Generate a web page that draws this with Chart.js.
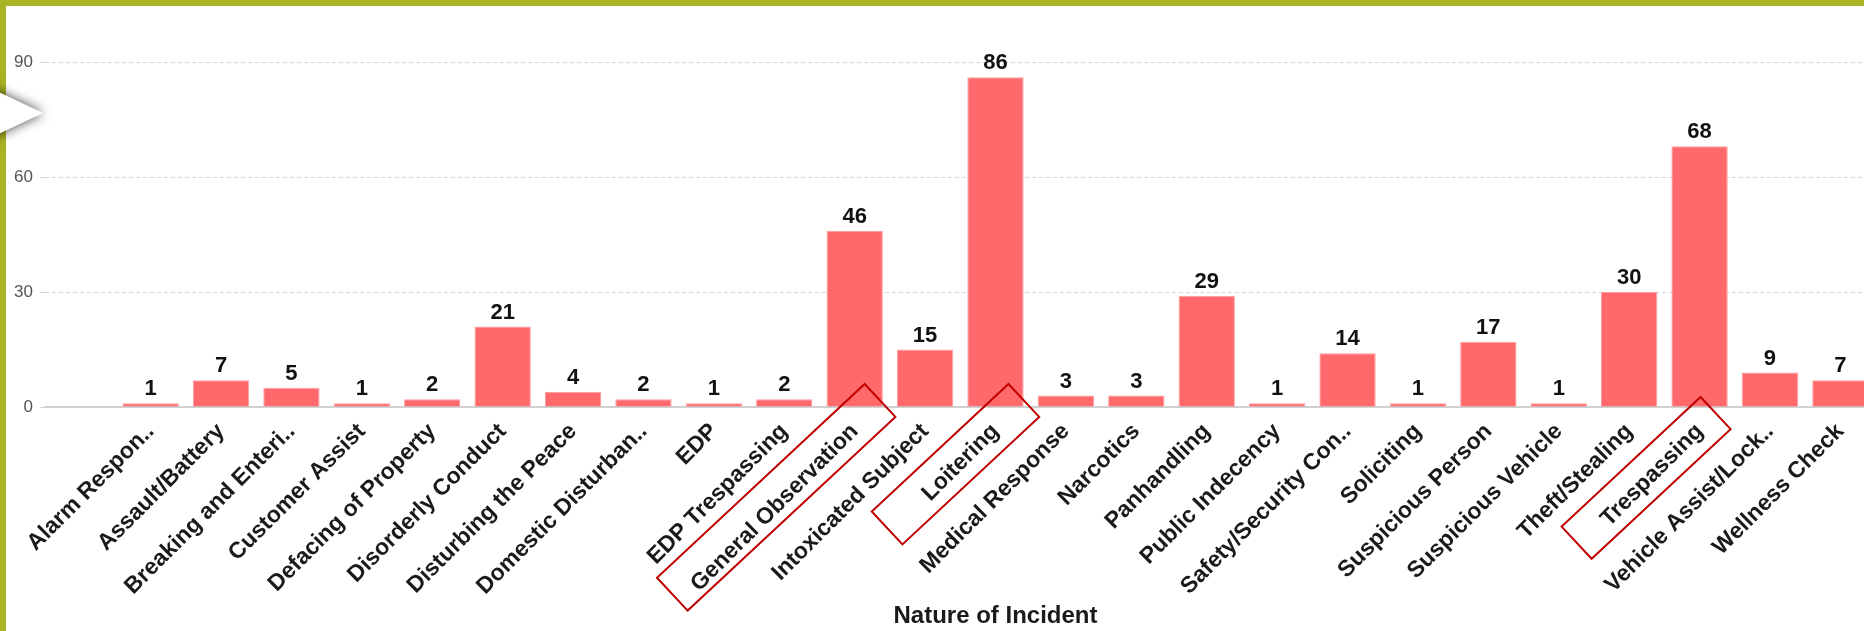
<!DOCTYPE html>
<html>
<head>
<meta charset="utf-8">
<title>Nature of Incident</title>
<script src="https://cdn.jsdelivr.net/npm/chart.js@4.4.1/dist/chart.umd.min.js"></script>
<style>
    html, body { margin: 0; padding: 0; background: #fff; overflow: hidden; }
    body { position: relative; width: 1864px; height: 631px; }
    .chart-wrap { position: absolute; left: 0; top: 0; width: 1950px; height: 631px; }
    .frame-top { position: absolute; left: 0; top: 0; width: 1864px; height: 6px; background: #a8b424; z-index: 2; }
    .frame-left { position: absolute; left: 0; top: 0; width: 6px; height: 631px; background: #a8b424; z-index: 2; }
    .pointer { position: absolute; left: 0; top: 80px; width: 60px; height: 70px; z-index: 3;
               filter: drop-shadow(0 0 6px rgba(0, 0, 0, 0.75)); }
    .pointer div { position: absolute; left: -12px; top: 7px; width: 55px; height: 52px; background: #fff;
                   clip-path: polygon(0 0, 100% 50%, 0 100%); }
</style>
</head>
<body>
<div class="chart-wrap"><canvas id="incidentChart"></canvas></div>
<div class="frame-top"></div>
<div class="frame-left"></div>
<div class="pointer"><div></div></div>

<script>
'use strict';

// categories (blank slots at both ends, as in the report layout)
const categories = [
    '',
    'Alarm Respon..', 'Assault/Battery', 'Breaking and Enteri..', 'Customer Assist',
    'Defacing of Property', 'Disorderly Conduct', 'Disturbing the Peace', 'Domestic Disturban..',
    'EDP', 'EDP Trespassing', 'General Observation', 'Intoxicated Subject', 'Loitering',
    'Medical Response', 'Narcotics', 'Panhandling', 'Public Indecency', 'Safety/Security Con..',
    'Soliciting', 'Suspicious Person', 'Suspicious Vehicle', 'Theft/Stealing', 'Trespassing',
    'Vehicle Assist/Lock..', 'Wellness Check',
    ''
];

const incidentCounts = [
    null,
    1, 7, 5, 1,
    2, 21, 4, 2,
    1, 2, 46, 15, 86,
    3, 3, 29, 1, 14,
    1, 17, 1, 30, 68,
    9, 7,
    null
];

const yTicks = [0, 30, 60, 90];

const highlightedLabels = ['General Observation', 'Loitering', 'Trespassing'];

Chart.defaults.font.family = "'Liberation Sans', Arial, Helvetica, sans-serif";

/* numbers above the bars */
const valueLabels = {
    id: 'valueLabels',
    afterDatasetsDraw(chart) {
        const ctx = chart.ctx;
        const meta = chart.getDatasetMeta(0);
        ctx.save();
        ctx.font = "bold 22px 'Liberation Sans', Arial, sans-serif";
        ctx.fillStyle = '#111';
        ctx.textAlign = 'center';
        ctx.textBaseline = 'alphabetic';
        meta.data.forEach(function(bar, i) {
            const v = incidentCounts[i];
            if (v === null) return;
            ctx.fillText(String(v), bar.x, bar.y - 8);
        });
        ctx.restore();
    }
};

/* red outline boxes around some axis labels */
const boxShapes = {
    'General Observation': { dx: 10, dy: -23, length: 284, width: 45 },
    'Loitering':           { dx: 13, dy: -23, length: 187, width: 45 },
    'Trespassing':         { dx: 1,  dy: -10, length: 190, width: 44 }
};

const labelBoxes = {
    id: 'labelBoxes',
    afterDraw(chart) {
        const ctx = chart.ctx;
        const xs = chart.scales.x;
        const base = chart.scales.y.getPixelForValue(0);
        const along = 137 * Math.PI / 180;
        const across = 47 * Math.PI / 180;
        ctx.save();
        ctx.strokeStyle = '#c00000';
        ctx.lineWidth = 2;
        highlightedLabels.forEach(function(label) {
            const s = boxShapes[label];
            const idx = categories.indexOf(label);
            const tx = xs.getPixelForValue(idx) + s.dx;
            const ty = base + s.dy;
            const ax = s.width * Math.cos(across), ay = s.width * Math.sin(across);
            const lx = s.length * Math.cos(along), ly = s.length * Math.sin(along);
            ctx.beginPath();
            ctx.moveTo(tx, ty);
            ctx.lineTo(tx + ax, ty + ay);
            ctx.lineTo(tx + ax + lx, ty + ay + ly);
            ctx.lineTo(tx + lx, ty + ly);
            ctx.closePath();
            ctx.stroke();
        });
        ctx.restore();
    }
};

const ctx = document.getElementById('incidentChart').getContext('2d');
new Chart(ctx, {
    type: 'bar',
    data: {
        labels: categories,
        datasets: [{
            label: 'Incidents',
            data: incidentCounts,
            backgroundColor: '#ff696c',
            borderColor: '#ff9a9c',
            borderWidth: 1,
            categoryPercentage: 1,
            barPercentage: 0.8
        }]
    },
    options: {
        responsive: true,
        maintainAspectRatio: false,
        animation: false,
        devicePixelRatio: 1,
        layout: {
            padding: { top: 62, right: 4, bottom: 0, left: 0 }
        },
        plugins: {
            legend: { display: false },
            tooltip: { enabled: false }
        },
        scales: {
            y: {
                min: yTicks[0],
                max: yTicks[yTicks.length - 1],
                ticks: {
                    stepSize: yTicks[1] - yTicks[0],
                    color: '#555',
                    padding: 7,
                    font: { size: 17 }
                },
                grid: {
                    color: '#d6d6d6',
                    tickLength: 5
                },
                border: {
                    display: false,
                    dash: [4, 3]
                },
                afterFit(scale) {
                    scale.width = 45;
                }
            },
            x: {
                grid: { display: false },
                border: {
                    display: true,
                    color: '#d0d0d0',
                    width: 2
                },
                ticks: {
                    autoSkip: false,
                    maxRotation: 45,
                    minRotation: 45,
                    color: '#1a1a1a',
                    padding: 3,
                    font: { size: 23, weight: 'bold' }
                },
                title: {
                    display: true,
                    text: 'Nature of Incident',
                    color: '#1a1a1a',
                    padding: { top: 0, bottom: 0 },
                    font: { size: 24, weight: 'bold' }
                },
                afterFit(scale) {
                    scale.height = 224;
                }
            }
        }
    },
    plugins: [valueLabels, labelBoxes]
});
</script>
</body>
</html>
